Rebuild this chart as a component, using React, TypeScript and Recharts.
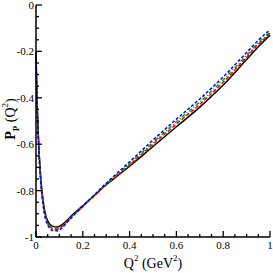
import React from "react";
import { LineChart, Line, XAxis, YAxis } from "recharts";

const q2 = [0, 0.005, 0.01, 0.02, 0.03, 0.04, 0.05, 0.07, 0.09, 0.11, 0.13, 0.16, 0.2, 0.25, 0.3, 0.35, 0.4, 0.5, 0.6, 0.7, 0.8, 0.9, 0.95, 1.0];
const blackSeries = [-0.2, -0.42, -0.56, -0.74, -0.84, -0.9, -0.93, -0.953, -0.957, -0.948, -0.93, -0.9, -0.865, -0.82, -0.775, -0.735, -0.695, -0.61, -0.525, -0.44, -0.345, -0.235, -0.18, -0.13];
const redSeries = [-0.21, -0.43, -0.57, -0.75, -0.85, -0.91, -0.94, -0.963, -0.965, -0.955, -0.935, -0.905, -0.868, -0.822, -0.775, -0.733, -0.69, -0.6, -0.513, -0.428, -0.333, -0.225, -0.17, -0.122];
const greenSeries = [-0.21, -0.43, -0.57, -0.75, -0.85, -0.91, -0.942, -0.965, -0.967, -0.957, -0.937, -0.906, -0.868, -0.82, -0.772, -0.728, -0.684, -0.592, -0.503, -0.418, -0.323, -0.217, -0.163, -0.116];
const blueSeries = [-0.22, -0.44, -0.58, -0.76, -0.86, -0.92, -0.947, -0.972, -0.973, -0.962, -0.94, -0.908, -0.868, -0.818, -0.768, -0.722, -0.676, -0.582, -0.492, -0.405, -0.31, -0.205, -0.152, -0.106];

const xTicks = [0, 0.05, 0.1, 0.15, 0.2, 0.25, 0.3, 0.35, 0.4, 0.45, 0.5, 0.55, 0.6, 0.65, 0.7, 0.75, 0.8, 0.85, 0.9, 0.95, 1];
const yTicks = [-1, -0.95, -0.9, -0.85, -0.8, -0.75, -0.7, -0.65, -0.6, -0.55, -0.5, -0.45, -0.4, -0.35, -0.3, -0.25, -0.2, -0.15, -0.1, -0.05, 0];

const data = q2.map((q, i) => ({
  q,
  black: blackSeries[i],
  red: redSeries[i],
  green: greenSeries[i],
  blue: blueSeries[i],
}));

const FONT_STYLE = { fontFamily: "Liberation Serif, DejaVu Serif, serif" };

const isMajor = (v: number) => Math.round(Math.abs(v) * 20) % 4 === 0;
const fmt = (v: number) => {
  const r = Math.round(v * 100) / 100;
  if (r === 0) return "0";
  return String(r);
};

const makeXTick = (side: "bottom" | "top") => (props: any) => {
  const { x, y, payload } = props;
  const v = payload.value;
  const major = isMajor(v);
  const len = major ? 6 : 3;
  const dir = side === "bottom" ? -1 : 1;
  return (
    <g>
      <line x1={x} y1={y} x2={x} y2={y + dir * len} stroke="#000" strokeWidth={1.3} />
      {side === "bottom" && major ? (
        <text x={x} y={y + 12} textAnchor="middle" style={FONT_STYLE} fontSize={11} fill="#000">
          {fmt(v)}
        </text>
      ) : null}
    </g>
  );
};

const makeYTick = (side: "left" | "right") => (props: any) => {
  const { x, y, payload } = props;
  const v = payload.value;
  const major = isMajor(v);
  const len = major ? 6 : 3;
  const dir = side === "left" ? 1 : -1;
  return (
    <g>
      <line x1={x} y1={y} x2={x + dir * len} y2={y} stroke="#000" strokeWidth={1.3} />
      {side === "left" && major ? (
        <text x={x - 2} y={y + 4} textAnchor="end" style={FONT_STYLE} fontSize={11} fill="#000">
          {fmt(v)}
        </text>
      ) : null}
    </g>
  );
};

const XTitle = () => {
  return (
    <text x={153} y={268} textAnchor="middle" style={FONT_STYLE} fontSize={14} fill="#000">
      <tspan>Q</tspan>
      <tspan dy={-7} fontSize={9}>2</tspan>
      <tspan dy={7}> (GeV</tspan>
      <tspan dy={-7} fontSize={9}>2</tspan>
      <tspan dy={7}>)</tspan>
    </text>
  );
};

const YTitle = () => {
  return (
    <text transform="translate(15,119) rotate(-90)" textAnchor="middle" style={FONT_STYLE} fontSize={14} fill="#000">
      <tspan fontWeight="bold">P</tspan>
      <tspan dy={4} fontSize={9} fontWeight="bold">P</tspan>
      <tspan dy={-4}> (Q</tspan>
      <tspan dy={-7} fontSize={9}>2</tspan>
      <tspan dy={7}>)</tspan>
    </text>
  );
};

export default function App() {
  return (
    <div style={{ position: "absolute", left: 0, top: 0, width: 273, height: 273, background: "#fff" }}>
      <LineChart width={273} height={273} data={data} margin={{ top: 5, right: 3, bottom: 0, left: 0 }}>
        <XAxis
          xAxisId="b"
          dataKey="q"
          type="number"
          domain={[0, 1]}
          ticks={xTicks}
          interval={0}
          height={36}
          tickSize={0}
          tickMargin={0}
          tickLine={false}
          axisLine={{ stroke: "#000", strokeWidth: 1.5 }}
          tick={makeXTick("bottom")}
          label={{ content: <XTitle /> }}
        />
        <XAxis
          xAxisId="t"
          orientation="top"
          dataKey="q"
          type="number"
          domain={[0, 1]}
          ticks={xTicks}
          interval={0}
          height={0}
          tickSize={0}
          tickMargin={0}
          tickLine={false}
          axisLine={{ stroke: "#000", strokeWidth: 1.5 }}
          tick={makeXTick("top")}
        />
        <YAxis
          yAxisId="l"
          type="number"
          domain={[-1, 0]}
          ticks={yTicks}
          interval={0}
          width={36}
          tickSize={0}
          tickMargin={0}
          tickLine={false}
          axisLine={{ stroke: "#000", strokeWidth: 1.5 }}
          tick={makeYTick("left")}
          label={{ content: <YTitle /> }}
        />
        <YAxis
          yAxisId="r"
          orientation="right"
          type="number"
          domain={[-1, 0]}
          ticks={yTicks}
          interval={0}
          width={0}
          tickSize={0}
          tickMargin={0}
          tickLine={false}
          axisLine={{ stroke: "#000", strokeWidth: 1.5 }}
          tick={makeYTick("right")}
        />
        <Line xAxisId="b" yAxisId="l" type="monotone" dataKey="black" stroke="#000" strokeWidth={1.5} dot={false} isAnimationActive={false} />
        <Line xAxisId="b" yAxisId="l" type="monotone" dataKey="red" stroke="#ff0000" strokeWidth={1.5} strokeDasharray="4 2" dot={false} isAnimationActive={false} />
        <Line xAxisId="b" yAxisId="l" type="monotone" dataKey="green" stroke="#00a000" strokeWidth={1.5} strokeDasharray="4 2 1 2" dot={false} isAnimationActive={false} />
        <Line xAxisId="b" yAxisId="l" type="monotone" dataKey="blue" stroke="#0000ff" strokeWidth={1.5} strokeDasharray="3 2" dot={false} isAnimationActive={false} />
      </LineChart>
    </div>
  );
}
